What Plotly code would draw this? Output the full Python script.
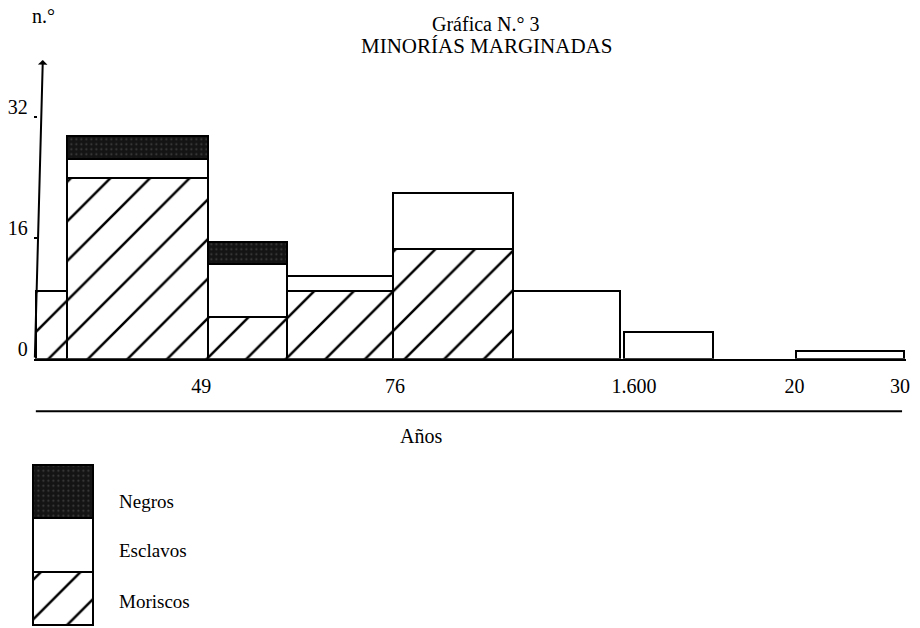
import plotly.graph_objects as go

W, H = 920, 628

# ---------------- data ----------------
series_names = ["Moriscos", "Esclavos", "Negros"]
# bin edges on the chart's (schematic, non-linear) time scale, 0-100 units
bin_left = [0.2, 3.8, 20.0, 29.0, 41.2, 54.9, 67.7, 87.4]
bin_right = [3.8, 20.0, 29.0, 41.2, 54.9, 67.2, 77.9, 99.8]
moriscos = [9, 24, 5.5, 9, 14.5, None, None, None]
esclavos = [None, 2.5, 7, 2, 7.5, 9, 3.5, 1]
negros = [None, 3, 3, None, None, None, None, None]
x_tick_pos = [19.2, 41.4, 68.8, 87.2, 99.3]
x_tick_labels = ["49", "76", "1.600", "20", "30"]
y_tick_vals = [0, 16, 32]
y_tick_labels = ["0", "16", "32"]

FONT = "Liberation Serif, Times New Roman, serif"
INK = "#000000"

centers = [(a + b) / 2 for a, b in zip(bin_left, bin_right)]
widths = [b - a for a, b in zip(bin_left, bin_right)]

hatch = dict(shape="/", fgcolor=INK, fgopacity=1, bgcolor="white", size=28, solidity=0.09)
speck = dict(shape=".", fgcolor="#6a6a6a", bgcolor="#141414", size=5, solidity=0.15)
styles = {
    "Moriscos": dict(color="white", pattern=hatch, line=dict(color=INK, width=2)),
    "Esclavos": dict(color="white", line=dict(color=INK, width=2)),
    "Negros": dict(color="#141414", pattern=speck, line=dict(color=INK, width=2)),
}
values = {"Moriscos": moriscos, "Esclavos": esclavos, "Negros": negros}

fig = go.Figure()
for name in series_names:
    fig.add_trace(go.Bar(
        x=centers, y=values[name], width=widths, name=name,
        marker=styles[name], showlegend=False, hoverinfo="skip",
        xaxis="x", yaxis="y",
    ))

# legend swatches drawn as a small stacked bar column
for name in series_names:
    fig.add_trace(go.Bar(
        x=[0.5], y=[1], width=[1], name=name, marker=styles[name],
        showlegend=False, hoverinfo="skip", xaxis="x2", yaxis="y2",
    ))

def px_x(p):
    return p / W

def px_y(p):
    return 1 - p / H

fig.update_layout(
    width=W, height=H,
    margin=dict(l=0, r=0, t=0, b=0),
    paper_bgcolor="white", plot_bgcolor="rgba(0,0,0,0)",
    barmode="stack",
    font=dict(family=FONT, color=INK, size=20),
    xaxis=dict(
        domain=[px_x(34), px_x(910)], range=[0, 100],
        showgrid=False, zeroline=False,
        showline=True, linecolor=INK, linewidth=2,
        tickmode="array", tickvals=x_tick_pos, ticktext=x_tick_labels,
        ticks="", ticklabelstandoff=8,
        tickfont=dict(family=FONT, size=20, color=INK),
    ),
    yaxis=dict(
        domain=[px_y(359.3), px_y(56.8)], range=[0, 40],
        showgrid=False, zeroline=False, showline=False,
        tickmode="array", tickvals=y_tick_vals, ticktext=y_tick_labels,
        ticks="inside", ticklen=3, tickwidth=2, tickcolor=INK,
        ticklabelstandoff=5, ticklabelshift=-10,
        tickfont=dict(family=FONT, size=20, color=INK),
    ),
    xaxis2=dict(domain=[px_x(31), px_x(95)], range=[-0.03, 1.03],
                visible=False, anchor="y2"),
    yaxis2=dict(domain=[px_y(628), px_y(464)], range=[-0.03, 3.03],
                visible=False, anchor="x2"),
)

anns = [
    dict(text="n.°", x=px_x(44), y=px_y(16), font=dict(family=FONT, size=20, color=INK)),
    dict(text="Gráfica N.° 3", x=px_x(488), y=px_y(24), font=dict(family=FONT, size=20, color=INK)),
    dict(text="MINORÍAS MARGINADAS", x=px_x(489), y=px_y(46), font=dict(family=FONT, size=21, color=INK)),
    dict(text="Años", x=px_x(423), y=px_y(437), font=dict(family=FONT, size=20, color=INK)),
]
for a in anns:
    fig.add_annotation(xref="paper", yref="paper", showarrow=False,
                       xanchor="center", yanchor="middle", **a)

legend_label_y = [602, 551, 502]
for name, ly in zip(series_names, legend_label_y):
    fig.add_annotation(xref="paper", yref="paper", showarrow=False,
                       x=px_x(118), y=px_y(ly), xanchor="left", yanchor="middle",
                       text=name, font=dict(family=FONT, size=19, color=INK))

# slanted vertical axis with arrow tip
fig.add_annotation(xref="paper", yref="paper", x=px_x(43), y=px_y(60),
                   text="", showarrow=True, arrowhead=1, arrowsize=0.8,
                   arrowwidth=2, arrowcolor=INK, ax=-8, ay=299)

# rule under the year labels
fig.add_shape(type="line", xref="paper", yref="paper",
              x0=px_x(36), x1=px_x(906), y0=px_y(412), y1=px_y(412),
              line=dict(color=INK, width=2))

fig.write_html("out.html", config={"displayModeBar": False},
               post_script="document.body.style.margin='0px';")
